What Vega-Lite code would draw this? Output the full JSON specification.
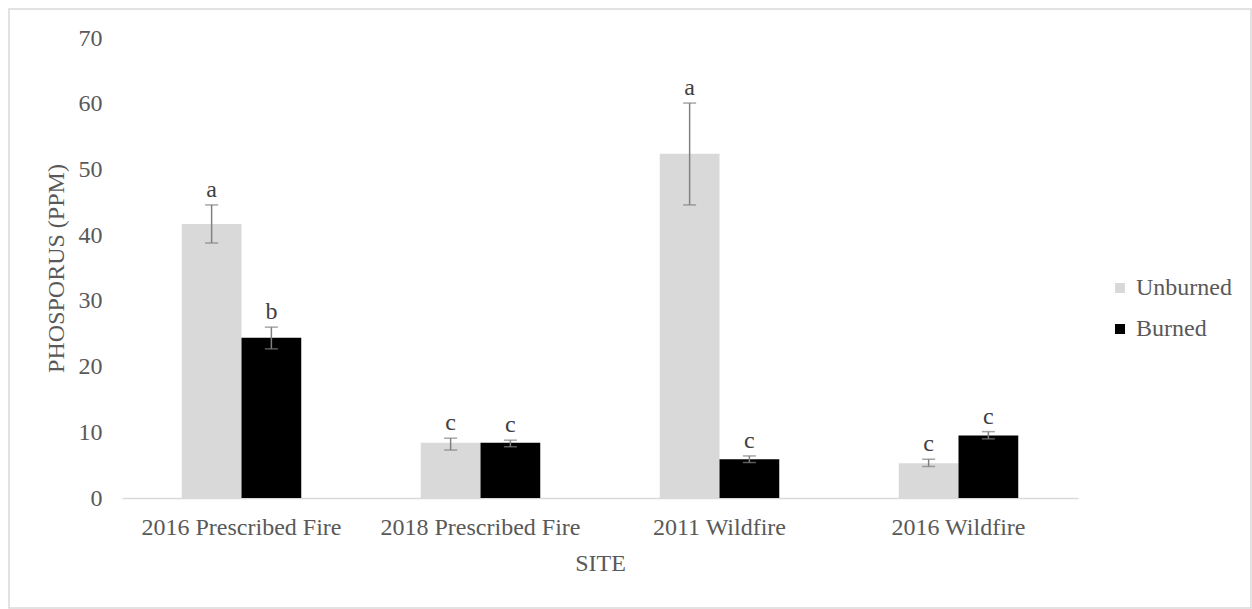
{
  "$schema": "https://vega.github.io/schema/vega-lite/v6.json",
  "width": 1242,
  "height": 599,
  "autosize": {"type": "none"},
  "padding": {"left": 9, "top": 9, "right": 1, "bottom": 1},
  "background": "white",
  "config": {
    "view": {"stroke": "#d9d9d9", "strokeWidth": 1.5},
    "font": "Liberation Serif",
    "axis": {"labelFont": "Liberation Serif", "titleFont": "Liberation Serif"},
    "legend": {"labelFont": "Liberation Serif", "titleFont": "Liberation Serif"},
    "text": {"font": "Liberation Serif"}
  },
  "data": {
    "values": [
      {"site": "2016 Prescribed Fire", "treatment": "Unburned", "value": 41.7, "lo": 38.8, "hi": 44.6, "letter": "a"},
      {"site": "2016 Prescribed Fire", "treatment": "Burned", "value": 24.4, "lo": 22.7, "hi": 26.0, "letter": "b"},
      {"site": "2018 Prescribed Fire", "treatment": "Unburned", "value": 8.4, "lo": 7.3, "hi": 9.1, "letter": "c"},
      {"site": "2018 Prescribed Fire", "treatment": "Burned", "value": 8.4, "lo": 7.8, "hi": 8.8, "letter": "c"},
      {"site": "2011 Wildfire", "treatment": "Unburned", "value": 52.4, "lo": 44.6, "hi": 60.1, "letter": "a"},
      {"site": "2011 Wildfire", "treatment": "Burned", "value": 5.9, "lo": 5.4, "hi": 6.4, "letter": "c"},
      {"site": "2016 Wildfire", "treatment": "Unburned", "value": 5.3, "lo": 4.8, "hi": 5.9, "letter": "c"},
      {"site": "2016 Wildfire", "treatment": "Burned", "value": 9.5, "lo": 9.0, "hi": 10.1, "letter": "c"}
    ]
  },
  "encoding": {
    "x": {
      "field": "site",
      "type": "nominal",
      "sort": ["2016 Prescribed Fire", "2018 Prescribed Fire", "2011 Wildfire", "2016 Wildfire"],
      "scale": {"range": [113, 1069], "paddingInner": 0.5, "paddingOuter": 0.25},
      "axis": {
        "title": "SITE",
        "orient": "bottom",
        "offset": -110,
        "domainColor": "#d9d9d9",
        "domainWidth": 1.5,
        "ticks": false,
        "tickSize": 0,
        "grid": false,
        "labelAngle": 0,
        "labelLimit": 0,
        "labelPadding": 17,
        "labelFont": "Liberation Serif",
        "labelFontSize": 24,
        "labelColor": "#595959",
        "titleFont": "Liberation Serif",
        "titleFontSize": 24,
        "titleFontWeight": "normal",
        "titleColor": "#595959",
        "titlePadding": 12
      }
    },
    "xOffset": {
      "field": "treatment",
      "type": "nominal",
      "sort": ["Unburned", "Burned"],
      "scale": {"paddingInner": 0, "paddingOuter": 0}
    }
  },
  "layer": [
    {
      "mark": {"type": "bar"},
      "encoding": {
        "y": {
          "field": "value",
          "type": "quantitative",
          "scale": {"domain": [0, 70], "range": [489, 29], "nice": false, "zero": true},
          "axis": {
            "title": "PHOSPORUS (PPM)",
            "values": [0, 10, 20, 30, 40, 50, 60, 70],
            "offset": -93,
            "domain": false,
            "ticks": false,
            "tickSize": 0,
            "grid": false,
            "labelPadding": 0,
            "labelFont": "Liberation Serif",
            "labelFontSize": 24,
            "labelColor": "#595959",
            "titleFont": "Liberation Serif",
            "titleFontSize": 24,
            "titleFontWeight": "normal",
            "titleColor": "#595959",
            "titlePadding": 10
          }
        },
        "color": {
          "field": "treatment",
          "type": "nominal",
          "sort": ["Unburned", "Burned"],
          "scale": {"domain": ["Unburned", "Burned"], "range": ["#d9d9d9", "#000000"]},
          "legend": {
            "orient": "none",
            "legendX": 1099,
            "legendY": 267,
            "title": null,
            "symbolType": "square",
            "symbolSize": 100,
            "symbolStrokeWidth": 0,
            "labelFont": "Liberation Serif",
            "labelFontSize": 24,
            "labelColor": "#595959",
            "labelOffset": 4,
            "rowPadding": 17,
            "padding": 0
          }
        }
      }
    },
    {
      "mark": {"type": "rule", "color": "#808080", "strokeWidth": 1.5},
      "encoding": {
        "y": {"field": "lo", "type": "quantitative"},
        "y2": {"field": "hi"}
      }
    },
    {
      "mark": {"type": "tick", "color": "#808080", "thickness": 1.5, "size": 13},
      "encoding": {
        "y": {"field": "lo", "type": "quantitative"}
      }
    },
    {
      "mark": {"type": "tick", "color": "#808080", "thickness": 1.5, "size": 13},
      "encoding": {
        "y": {"field": "hi", "type": "quantitative"}
      }
    },
    {
      "mark": {"type": "text", "baseline": "alphabetic", "dy": -8, "font": "Liberation Serif", "fontSize": 24, "color": "#404040"},
      "encoding": {
        "y": {"field": "hi", "type": "quantitative"},
        "text": {"field": "letter", "type": "nominal"}
      }
    }
  ]
}
